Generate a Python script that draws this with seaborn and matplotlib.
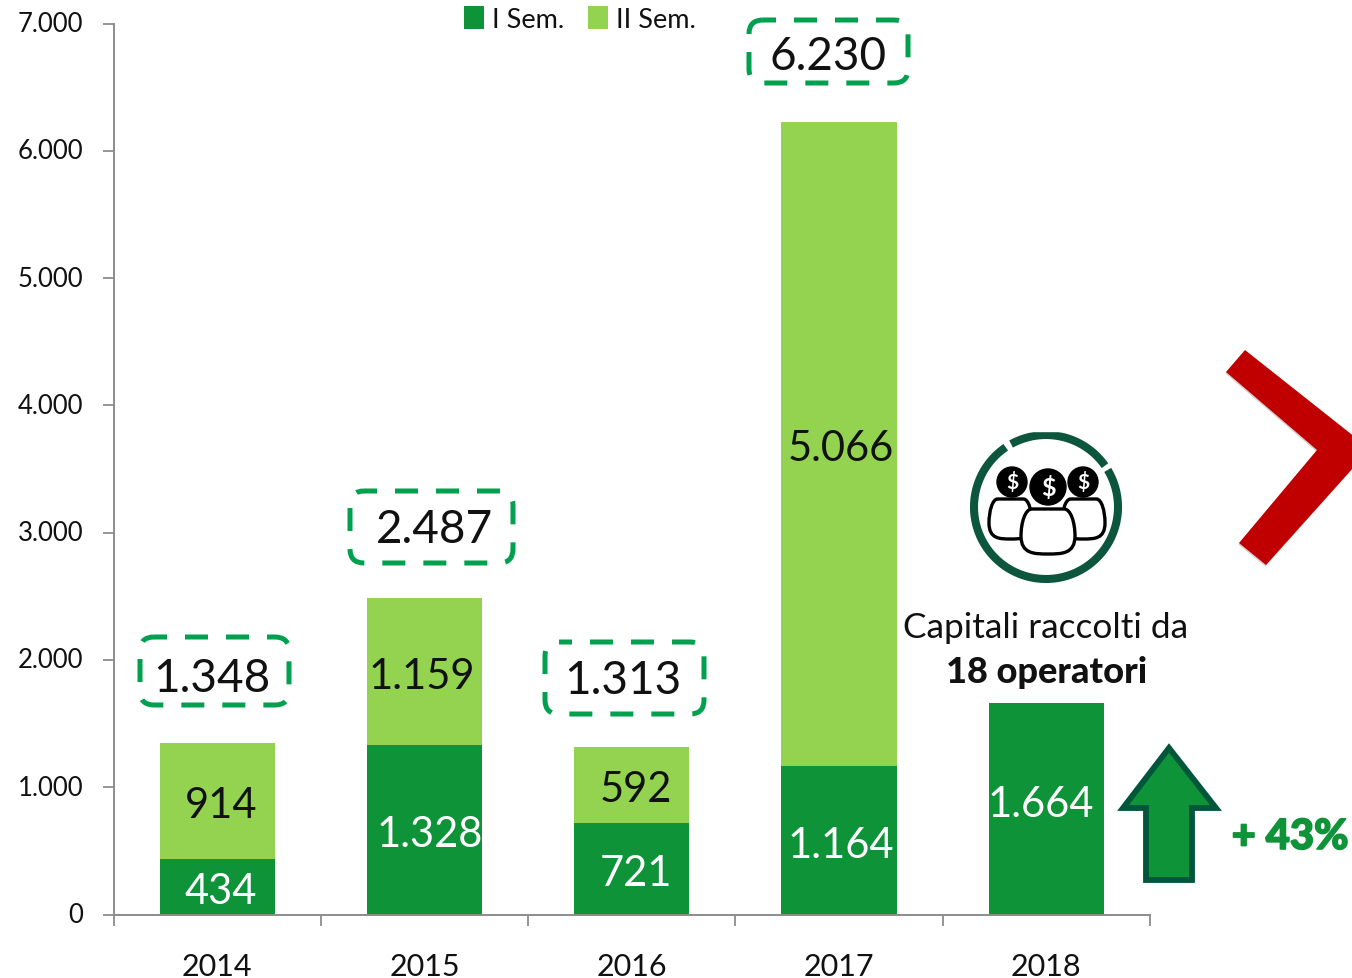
import numpy as np
import pandas as pd
import matplotlib
matplotlib.use('Agg')
import matplotlib.pyplot as plt
import matplotlib.patheffects as pe
from matplotlib.patches import FancyBboxPatch, Polygon, Circle, PathPatch
from matplotlib.path import Path
from matplotlib.transforms import ScaledTranslation
import seaborn as sns

# -----------------------------
# Data
# -----------------------------
years = ['2014', '2015', '2016', '2017', '2018']
sem1 = [434, 1328, 721, 1164, 1664]
sem2 = [914, 1159, 592, 5066, 0]
totals = [1348, 2487, 1313, 6230]
y_ticks = [0, 1000, 2000, 3000, 4000, 5000, 6000, 7000]
series_names = ['I Sem.', 'II Sem.']
note_lines = ['Capitali raccolti da', '18 operatori']
growth_label = '+ 43%'

# -----------------------------
# Styles
# -----------------------------
DARK = '#0F9339'
LIGHT = '#93D34F'
DASH = '#00A04F'
DEEP = '#00563B'
RING = '#0B563C'
RED = '#C00000'
AXIS = '#8C8C8C'
W, H = 1352, 979

sns.set_style('ticks')
plt.rcParams['font.family'] = ['Lato', 'DejaVu Sans']


def it(v):
    return f'{v:,}'.replace(',', '.')


df = pd.DataFrame({'year': years, 'sem1': sem1, 'sem2': sem2})

fig = plt.figure(figsize=(W / 100, H / 100), dpi=100, facecolor='white')
ax = fig.add_axes([113.6 / W, 1 - 915.5 / H, (1150 - 113.6) / W, (915.5 - 24.5) / H])

sns.barplot(data=df, x='year', y='sem1', color=DARK, width=0.556, saturation=1,
            linewidth=0, label=series_names[0], ax=ax)
sns.barplot(data=df, x='year', y='sem2', color=LIGHT, width=0.556, saturation=1,
            linewidth=0, bottom=df['sem1'], label=series_names[1], ax=ax)

ax.set_xlim(-0.5, 4.5)
ax.set_ylim(0, 7000)
ax.set_xlabel('')
ax.set_ylabel('')
ax.set_yticks(y_ticks)
ax.set_yticklabels([it(v) for v in y_ticks], fontsize=18.5, color='#111111')
ax.set_xticks(np.arange(-0.5, 5), minor=True)
ax.tick_params(axis='x', which='major', length=0, pad=27, labelsize=22, labelcolor='#111111')
ax.tick_params(axis='x', which='minor', length=8, width=1.3, color=AXIS)
ax.tick_params(axis='y', length=8, width=1.3, color=AXIS, pad=14)
for lab in ax.get_yticklabels():
    lab.set_transform(lab.get_transform() + ScaledTranslation(0, 2.5 / 100, fig.dpi_scale_trans))
for s in ['top', 'right']:
    ax.spines[s].set_visible(False)
for s in ['left', 'bottom']:
    ax.spines[s].set_color(AXIS)
    ax.spines[s].set_linewidth(1.4)

ax.legend(loc='upper left', bbox_to_anchor=(464 / W, 1 - 7 / H), bbox_transform=fig.transFigure,
          ncol=2, frameon=False, fontsize=19.5, handlelength=0.74, handleheight=0.95,
          handletextpad=0.3, columnspacing=0.88, labelcolor='#111111',
          borderpad=0, borderaxespad=0)

# -----------------------------
# Overlay in picture pixels for callouts and icon
# -----------------------------
ov = fig.add_axes([0, 0, 1, 1], facecolor='none')
ov.set_xlim(0, W)
ov.set_ylim(H, 0)
ov.axis('off')

# value labels
sem1_xy = [(221, 892), (430, 835), (636, 874), (841, 846), (1041, 805)]
sem2_xy = [(221, 806), (422, 677), (636, 790), (841, 449)]
for v, (x, y) in zip(sem1, sem1_xy):
    ov.text(x, y, it(v), color='white', fontsize=30, ha='center', va='center')
for v, (x, y) in zip(sem2, sem2_xy):
    ov.text(x, y, it(v), color='#111111', fontsize=30, ha='center', va='center')

# dashed total boxes
boxes = [(140, 638, 289, 706), (350, 492, 513, 564), (545, 643, 704, 715), (749, 21, 908, 84)]
total_xy = [(212, 679), (435, 530), (623, 681), (828, 57)]
for (x0, y0, x1, y1) in boxes:
    ov.add_patch(FancyBboxPatch((x0 + 14, y0 + 14), x1 - x0 - 28, y1 - y0 - 28,
                                boxstyle='round,pad=14,rounding_size=14', fill=False,
                                edgecolor=DASH, linewidth=3.6, linestyle=(2, (4.6, 3.6))))
for v, (x, y) in zip(totals, total_xy):
    ov.text(x, y, it(v), color='#111111', fontsize=33, ha='center', va='center')

# text beside 2018
ov.text(1046, 628, note_lines[0], fontsize=25.4, color='#111111', ha='center', va='center')
ov.text(1047, 673, note_lines[1], fontsize=26, color='#111111', weight='black', ha='center', va='center')
ov.text(1290, 838, growth_label, fontsize=30, color=DARK, weight='black', ha='center', va='center',
        path_effects=[pe.withStroke(linewidth=1.2, foreground=DARK)])

# growth arrow
ov.add_patch(Polygon([(1169, 749), (1123, 809), (1146, 809), (1146, 881), (1192, 881),
                      (1192, 809), (1216, 809)], closed=True, facecolor=DARK,
                     edgecolor=DEEP, linewidth=4.2, joinstyle='miter'))

# red chevron
ov.add_patch(Polygon([(1245, 351), (1226, 373), (1317, 451), (1239, 544), (1266, 566), (1370, 450)],
                     closed=True, facecolor=RED, edgecolor='none',
                     path_effects=[pe.withSimplePatchShadow(offset=(-0.5, -1), alpha=0.2)]))

# icon ring
cx, cy, r = 1046, 508, 72
for a0, a1 in [(35, 119), (124, 391)]:
    t = np.radians(np.linspace(a0, a1, 200))
    ov.plot(cx + r * np.cos(t), cy - r * np.sin(t), color=RING, lw=5.8, solid_capstyle='butt')
ov.add_patch(plt.Rectangle((960, 420), 170, 12, color='white', zorder=3))


def body(x0, x1, y0, y1, z):
    m = (x0 + x1) / 2
    w = x1 - x0
    h = y1 - y0
    verts = [(m - 0.3 * w, y0), (m + 0.3 * w, y0),
             (m + 0.42 * w, y0), (x1, y0 + 0.3 * h), (x1, y0 + 0.6 * h),
             (x1, y1), (m + 0.25 * w, y1), (m, y1),
             (m - 0.25 * w, y1), (x0, y1), (x0, y0 + 0.6 * h),
             (x0, y0 + 0.3 * h), (m - 0.42 * w, y0), (m - 0.3 * w, y0)]
    codes = [Path.MOVETO, Path.LINETO] + [Path.CURVE4] * 12
    ov.add_patch(PathPatch(Path(verts, codes), facecolor='white', edgecolor='black', lw=2.4, zorder=z))


body(989, 1032, 500, 540, 4)
body(1062, 1105, 500, 540, 4)
body(1021, 1075, 510, 555, 5)
for x, y, rad, fs in [(1012, 483, 15, 15), (1083, 483, 15, 15), (1048, 488, 18, 18)]:
    ov.add_patch(Circle((x, y), rad, color='black', zorder=6))
    ov.text(x, y, '$', color='white', fontsize=fs, weight='bold', ha='center', va='center', zorder=7)

fig.savefig('out.png', dpi=100)
